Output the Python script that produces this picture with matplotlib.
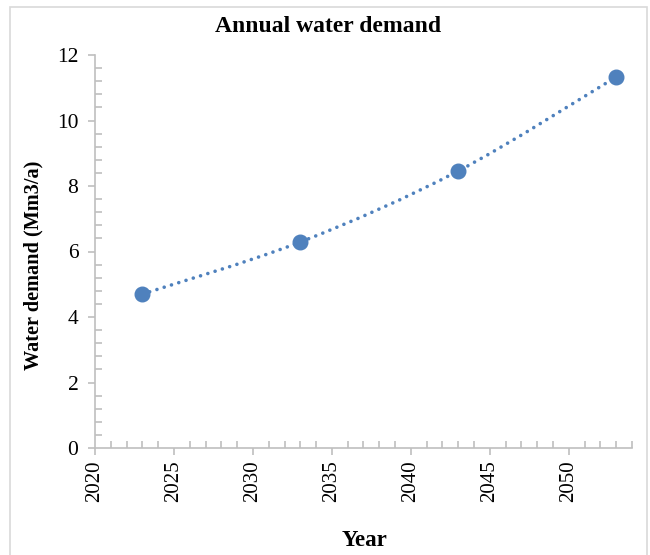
import numpy as np
import matplotlib
matplotlib.use("Agg")
import matplotlib.pyplot as plt
from matplotlib.path import Path
from matplotlib.patches import PathPatch, Rectangle
from matplotlib.ticker import MultipleLocator

# data
years = [2023, 2033, 2043, 2053]
demand = [4.70, 6.29, 8.46, 11.33]

blue = '#4F81BD'
grey = '#BFBFBF'

plt.rcParams['font.family'] = ['Liberation Serif', 'DejaVu Serif']

fig = plt.figure(figsize=(6.5, 5.55), dpi=100)
ax = fig.add_axes([95 / 650, (555 - 448) / 555, (632 - 95) / 650, (448 - 55) / 555])

# chart area border
fig.patches.append(Rectangle((10 / 650, -0.02), 637 / 650, 1.0 - 7 / 555 + 0.02,
                             transform=fig.transFigure, fill=False,
                             edgecolor='#D9D9D9', linewidth=1.2))

# smoothed line like Excel (Catmull-Rom style bezier through the points)
pts = np.column_stack([years, demand]).astype(float)
ext = np.vstack([pts[0], pts, pts[-1]])
verts = [tuple(pts[0])]
codes = [Path.MOVETO]
for i in range(len(pts) - 1):
    p0, p1, p2, p3 = ext[i], ext[i + 1], ext[i + 2], ext[i + 3]
    c1 = p1 + (p2 - p0) / 6
    c2 = p2 - (p3 - p1) / 6
    verts += [tuple(c1), tuple(c2), tuple(p2)]
    codes += [Path.CURVE4] * 3
curve = PathPatch(Path(verts, codes), fill=False, edgecolor=blue, linewidth=2.6,
                  linestyle=(0, (0.01, 2.1)), capstyle='round', zorder=2)
ax.add_patch(curve)

ax.plot(years, demand, linestyle='none', marker='o', markersize=10.5,
        color=blue, zorder=3)

ax.set_xlim(2020, 2054)
ax.set_ylim(0, 12)
ax.xaxis.set_major_locator(MultipleLocator(5))
ax.xaxis.set_minor_locator(MultipleLocator(1))
ax.yaxis.set_major_locator(MultipleLocator(2))
ax.yaxis.set_minor_locator(MultipleLocator(0.4))

for s in ['top', 'right']:
    ax.spines[s].set_visible(False)
for s in ['left', 'bottom']:
    ax.spines[s].set_color(grey)
    ax.spines[s].set_linewidth(1.2)

ax.tick_params(which='major', direction='out', length=5, width=1.2, color=grey,
               labelsize=15, labelcolor='black')
ax.tick_params(axis='y', which='major', pad=7, labelsize=15.5)
ax.tick_params(axis='x', which='major', pad=4)
ax.tick_params(which='minor', direction='in', length=5, width=1.2, color=grey)
plt.setp(ax.get_xticklabels(), rotation=90)

fig.text(328 / 650, 1 - 27 / 555, 'Annual water demand', fontsize=17,
         fontweight='bold', ha='center', va='center')
fig.text(33 / 650, 1 - 265 / 555, 'Water demand (Mm3/a)', fontsize=14.6,
         fontweight='bold', rotation=90, ha='center', va='center')
fig.text(364 / 650, 1 - 541 / 555, 'Year', fontsize=16.5,
         fontweight='bold', ha='center', va='center')

fig.savefig('out.png', dpi=100)
